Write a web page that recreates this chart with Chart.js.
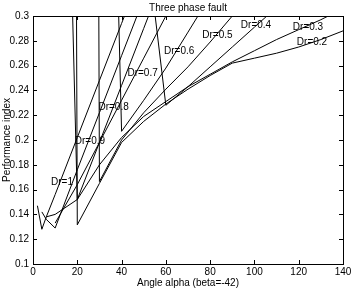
<!DOCTYPE html>
<html>
<head>
<meta charset="utf-8">
<script src="https://cdn.jsdelivr.net/npm/chart.js@4.4.1/dist/chart.umd.min.js"></script>
<style>
  html, body { margin: 0; padding: 0; background: #fff; }
  #wrap { width: 354px; height: 293px; }
</style>
</head>
<body>
<div id="wrap"><canvas id="c"></canvas></div>
<script>
// Angle alpha sample points (beta = -42)
const alpha = [2, 4, 6, 10, 20, 30, 40, 50, 60, 70, 80, 90, 100, 110, 120, 130, 140];

// Performance index per Dr (null = not plotted, large values run off the top)
const dr10 = [0.147, 0.128, 0.138, 0.156, 0.202, 0.248, 0.294, 0.340, null, null, null, null, null, null, null, null, null];
const dr09 = [null, 0.142, 0.136, 0.129, 0.176, 0.222, 0.268, 0.314, null, null, null, null, null, null, null, null, null];
const dr08 = [null, null, 0.138, 0.140, 0.152, 0.198, 0.244, 0.290, 0.336, null, null, null, null, null, null, null, null];
const dr07 = [null, null, null, 0.133, 0.164, 0.198, 0.232, 0.266, 0.300, 0.334, null, null, null, null, null, null, null];
const dr06 = [null, null, null, null, null, 0.920, 0.207, 0.232, 0.258, 0.287, 0.316, null, null, null, null, null, null];
const dr05 = [null, null, null, null, 5.0, 0.1665, 0.200, 0.222, 0.241, 0.259, 0.279, 0.300, 0.320, null, null, null, null];
const dr04 = [null, null, null, null, null, null, null, 0.377, 0.228, 0.243, 0.259, 0.275, 0.291, 0.307, null, null, null];
const dr03 = [null, null, null, 0.857, 0.152, 0.180, 0.202, 0.219, 0.231, 0.243, 0.253, 0.263, 0.272, 0.281, 0.289, 0.297, 0.306];
const dr02 = [null, null, null, 5.0, 0.1316, 0.165, 0.198, 0.215, 0.229, 0.241, 0.252, 0.262, 0.266, 0.270, 0.275, 0.281, 0.288];

const seriesNames = ['Dr=1', 'Dr=0.9', 'Dr=0.8', 'Dr=0.7', 'Dr=0.6', 'Dr=0.5', 'Dr=0.4', 'Dr=0.3', 'Dr=0.2'];
const seriesValues = [dr10, dr09, dr08, dr07, dr06, dr05, dr04, dr03, dr02];

// In-plot text labels (data coordinates of label centre)
const labelX = [13.1, 25.7, 36.4, 49.5, 66.0, 83.3, 100.7, 124.2, 126.0];
const labelY = [0.166, 0.1986, 0.2268, 0.2537, 0.2716, 0.2845, 0.2925, 0.2912, 0.279];

const FONT = "'Liberation Sans', Arial, Helvetica, sans-serif";

const datasets = seriesValues.map((vals, i) => ({
    label: seriesNames[i],
    data: alpha.map((a, j) => ({ x: a, y: vals[j] })),
    showLine: true,
    borderColor: '#000',
    borderWidth: 1,
    pointRadius: 0,
    spanGaps: false,
    fill: false
}));

// box + inward ticks, MATLAB style
const axesBox = {
    id: 'axesBox',
    afterDatasetsDraw(chart) {
        const { ctx, chartArea: a, scales } = chart;
        ctx.save();
        ctx.strokeStyle = '#000';
        ctx.lineWidth = 1;
        ctx.strokeRect(Math.round(a.left) + 0.5, Math.round(a.top) + 0.5,
            Math.round(a.right - a.left), Math.round(a.bottom - a.top));
        const len = 4;
        ctx.beginPath();
        scales.x.ticks.forEach(t => {
            const px = Math.round(scales.x.getPixelForValue(t.value)) + 0.5;
            ctx.moveTo(px, a.bottom); ctx.lineTo(px, a.bottom - len);
            ctx.moveTo(px, a.top); ctx.lineTo(px, a.top + len);
        });
        scales.y.ticks.forEach(t => {
            const py = Math.round(scales.y.getPixelForValue(t.value)) + 0.5;
            ctx.moveTo(a.left, py); ctx.lineTo(a.left + len, py);
            ctx.moveTo(a.right, py); ctx.lineTo(a.right - len, py);
        });
        ctx.stroke();

        // curve labels
        ctx.fillStyle = '#000';
        ctx.font = '10px ' + FONT;
        ctx.textAlign = 'center';
        ctx.textBaseline = 'middle';
        seriesNames.forEach((name, i) => {
            ctx.fillText(name, scales.x.getPixelForValue(labelX[i]), scales.y.getPixelForValue(labelY[i]));
        });
        ctx.restore();
    }
};

new Chart(document.getElementById('c'), {
    type: 'scatter',
    data: { datasets },
    options: {
        responsive: true,
        maintainAspectRatio: false,
        animation: false,
        layout: { padding: { left: 0, right: 11, top: 0, bottom: 0 } },
        plugins: {
            legend: { display: false },
            tooltip: { enabled: false },
            title: {
                display: true,
                text: 'Three phase fault',
                color: '#000',
                fullSize: false,
                font: { size: 10, family: FONT, weight: 'normal' },
                padding: { top: 2, bottom: 2 }
            }
        },
        scales: {
            x: {
                type: 'linear',
                min: 0, max: 140,
                afterFit: s => { s.height = 29; },
                ticks: { stepSize: 20, color: '#000', padding: 2, font: { size: 10, family: FONT } },
                grid: { display: false, drawTicks: false },
                border: { display: false },
                title: {
                    display: true, text: 'Angle alpha (beta=-42)', color: '#000',
                    font: { size: 10, family: FONT }, padding: { top: 0, bottom: 4 }
                }
            },
            y: {
                type: 'linear',
                min: 0.1, max: 0.3,
                afterFit: s => { s.width = 33; },
                ticks: {
                    stepSize: 0.02, color: '#000', padding: 4, font: { size: 10, family: FONT },
                    callback: v => String(parseFloat(v.toFixed(2)))
                },
                grid: { display: false, drawTicks: false },
                border: { display: false },
                title: {
                    display: true, text: 'Performance index', color: '#000',
                    font: { size: 10, family: FONT }, padding: { top: 1, bottom: 0 }
                }
            }
        }
    },
    plugins: [axesBox]
});
</script>
</body>
</html>
